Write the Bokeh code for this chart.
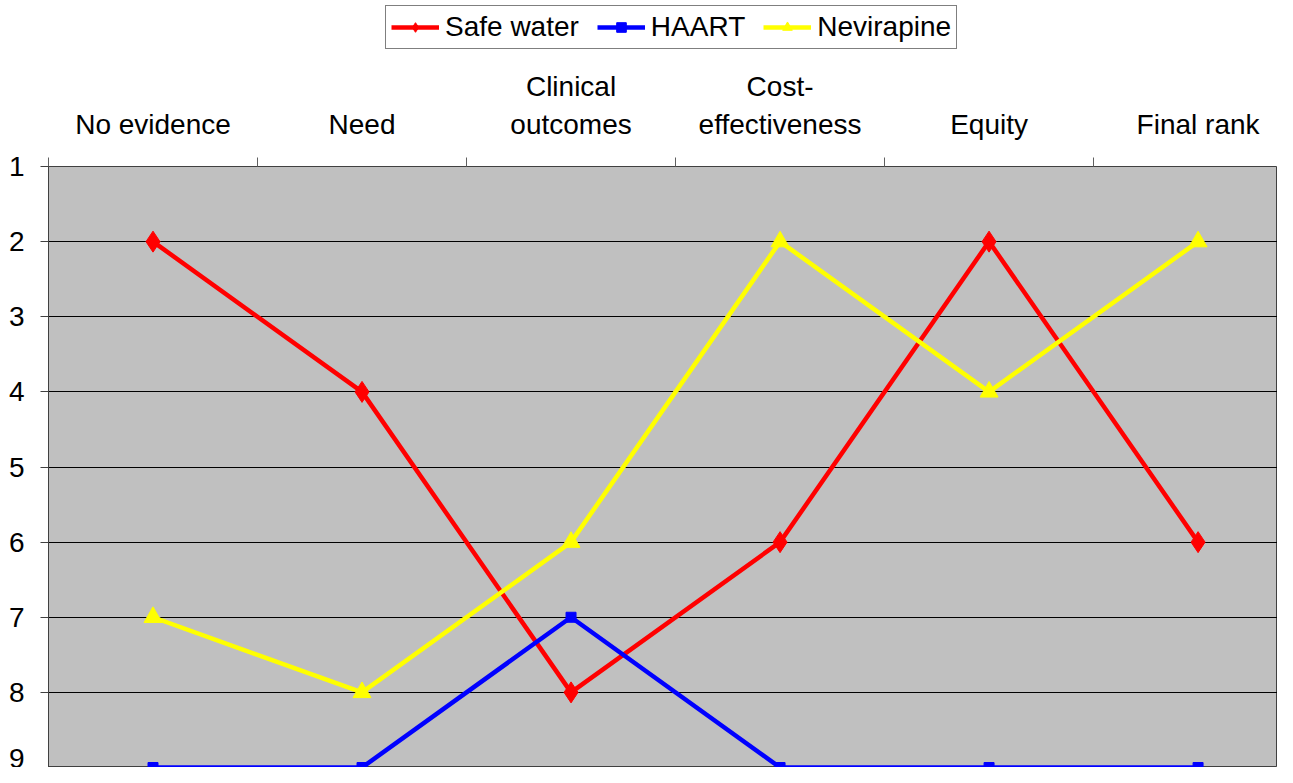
from bokeh.plotting import figure
from bokeh.layouts import column
from bokeh.models import (Range1d, FixedTicker, LinearAxis, Legend, LegendItem)
from bokeh.embed import file_html
from bokeh.resources import INLINE

categories = ["No evidence", "Need", "Clinical\noutcomes", "Cost-\neffectiveness", "Equity", "Final rank"]
safe_water = [2, 4, 8, 6, 2, 6]
haart = [9, 9, 7, 9, 9, 9]
nevirapine = [7, 8, 6, 2, 4, 2]
y_ticks = [1, 2, 3, 4, 5, 6, 7, 8, 9]
series_names = ["Safe water", "HAART", "Nevirapine"]

FONT = "Liberation Sans"
FS = "28px"
W = 1277
LEG_H = 56
x = list(range(len(categories)))

styles = [
    dict(color="#FF0000", marker="diamond", size=21),
    dict(color="#0000FF", marker="square", size=10),
    dict(color="#FFFF00", marker="triangle", size=18),
]
series = [safe_water, haart, nevirapine]


def draw(fig):
    out = []
    for data, st in zip(series, styles):
        ln = fig.line(x, data, line_color=st["color"], line_width=4.5)
        mk = fig.scatter(x, data, marker=st["marker"], size=st["size"],
                         fill_color=st["color"], line_color=st["color"])
        out.append((ln, mk))
    return out


# ---- main chart ----
p = figure(width=W, height=767 - LEG_H, output_backend="svg", toolbar_location=None,
           x_range=Range1d(-0.5, 5.38), y_range=Range1d(9, 1),
           x_axis_location=None, y_axis_location=None,
           min_border_left=48, min_border_right=0, min_border_bottom=0, min_border_top=110)
p.background_fill_color = "#C0C0C0"
p.border_fill_color = "white"
p.outline_line_color = "#404040"
p.outline_line_width = 1

yax = LinearAxis(ticker=FixedTicker(ticks=y_ticks))
yax.major_label_text_font = FONT
yax.major_label_text_font_size = FS
yax.major_label_text_color = "black"
yax.major_tick_out = 8
yax.major_tick_in = 0
yax.minor_tick_line_color = None
yax.major_label_standoff = 16
yax.axis_line_color = "#404040"
yax.major_tick_line_color = "#404040"
p.add_layout(yax, "left")

xax = LinearAxis(ticker=FixedTicker(ticks=x, minor_ticks=[i - 0.5 for i in range(len(categories) + 1)]))
xax.major_label_overrides = {i: c for i, c in enumerate(categories)}
xax.major_label_text_font = FONT
xax.major_label_text_font_size = FS
xax.major_label_text_color = "black"
xax.major_tick_line_color = None
xax.major_tick_out = 0
xax.minor_tick_out = 9
xax.minor_tick_in = 0
xax.minor_tick_line_color = "#606060"
xax.axis_line_color = None
xax.major_label_standoff = 18
p.add_layout(xax, "above")

p.xgrid.visible = False
p.ygrid.ticker = FixedTicker(ticks=y_ticks)
p.ygrid.grid_line_color = "black"
p.ygrid.grid_line_width = 1

draw(p)

# ---- legend strip ----
lp = figure(width=W, height=LEG_H, output_backend="svg", toolbar_location=None,
            x_range=Range1d(-0.5, 5.38), y_range=Range1d(100, 101),
            x_axis_location=None, y_axis_location=None,
            min_border_left=0, min_border_right=0, min_border_bottom=0, min_border_top=0)
lp.outline_line_color = None
lp.grid.visible = False
lp.background_fill_color = "white"
lp.border_fill_color = "white"
lr = draw(lp)

legend = Legend(items=[LegendItem(label=n, renderers=list(r)) for n, r in zip(series_names, lr)],
                orientation="horizontal", location=(337, 7))
legend.label_text_font = FONT
legend.label_text_font_size = FS
legend.label_text_color = "black"
legend.border_line_color = "black"
legend.border_line_width = 1
legend.background_fill_color = "white"
legend.background_fill_alpha = 1
legend.glyph_width = 48
legend.glyph_height = 24
legend.spacing = 18
legend.padding = 5
legend.label_standoff = 6
legend.margin = 0
lp.add_layout(legend)

layout = column(lp, p, spacing=0)
open("out.html", "w").write(file_html(layout, INLINE))
